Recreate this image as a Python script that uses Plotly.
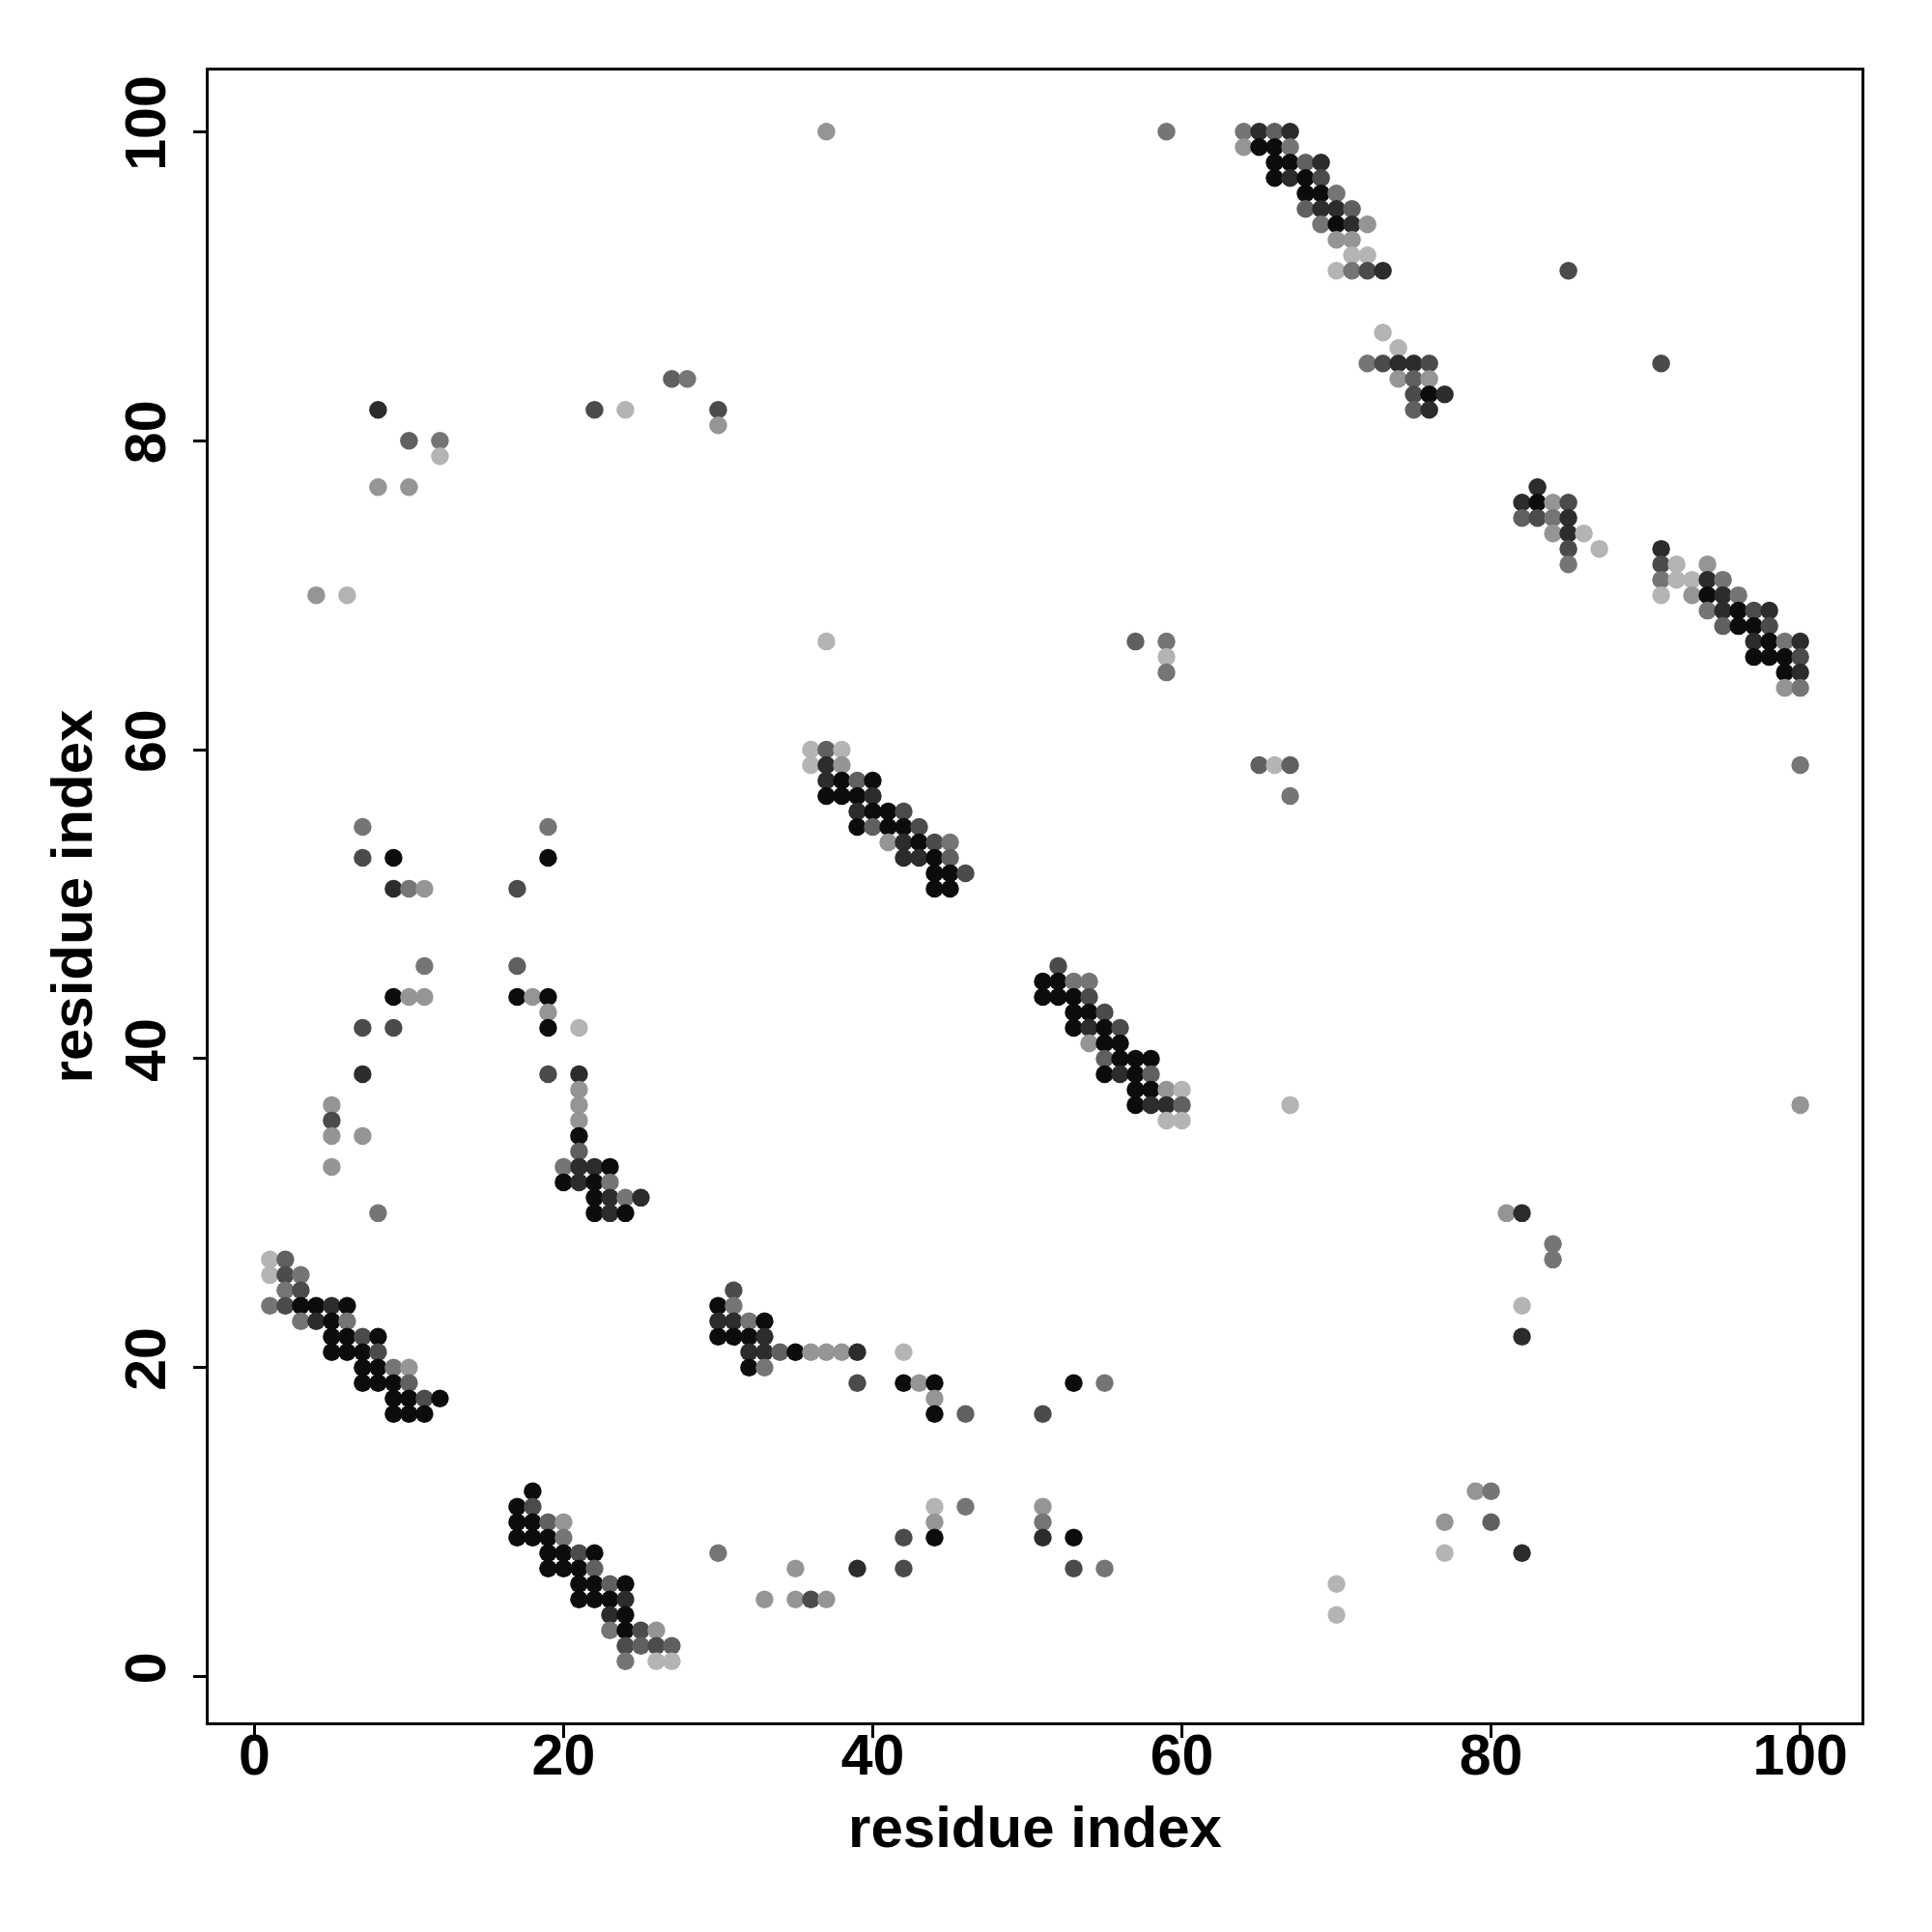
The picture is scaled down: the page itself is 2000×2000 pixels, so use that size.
import plotly.graph_objects as go

# residue i (x), residue j (y), contact strength (0.2 light ... 1.0 black)
res_i = [
 1,2, 1,2,3, 2,3, 1,2,3,4,5,6, 3,4,5,6, 5,6,7,8, 5,6,7,8, 7,8,9,10, 7,8,9,10, 9,10,11,12, 9,10,11,
 18, 17,18, 17,18,19,20, 17,18,19,20, 19,20,21,22,30, 19,20,21,22, 21,22,23,24, 21,22,23,24, 23,24,
 23,24,25,26, 24,25,26,27, 24,26,27,
 19,19,17,17,17,18,19,19,19,21,19,21, 21,21,21,21,21, 20,21,22,23, 20,21,22,23, 22,23,24,25, 22,23,24,
 7,7,9,9,10,11, 11,9,10,11,7,9,7, 5,5,5,7,5,8,
 31, 30,31, 30,31,32,33, 30,31,32,33, 32,33,34,35,36,37,38,39,42, 32,33, 39,42,43,44, 44, 44,46,
 44,46,51, 44,51, 42,44,51,53, 35,39,42,53,55, 33,35,36,37,
 36,37,38, 36,37,38, 37,38,39,40, 37,38,39,40, 39,40,41,42, 39,40,41,42,43, 41,42,43,44,45,
 42,43,44,45, 44,45,46, 44,45,
 52, 51,52,53,54, 51,52,53,54, 53,54,55, 53,54,55,56, 54,55,56, 55,56,57,58, 55,56,57,58,
 57,58,59,60, 57,58,59,60, 59,60,
 64,65,66,67, 64,65,66,67, 66,67,68,69, 66,67,68,69, 68,69,70, 68,69,70,71, 69,70,71,72, 70,71,
 71,72, 70,71,72,73, 73, 74, 72,73,74,75,76, 74,75,76, 75,76,77, 75,76,
 83, 82,83,84,85, 82,83,84,85, 84,85,86, 85,87, 85,
 91, 91,92,94, 91,92,93,94,95, 91,93,94,95,96, 94,95,96,97,98, 95,96,97,98, 97,98,99,100,
 97,98,99,100, 99,100, 99,100,
 27,28, 8,22,24,30, 30, 10,12, 12, 8,10, 4,6,
 37,59,85,91,37,57,59,59,59, 65,66,67,67,100, 67,100, 81,82,84,84,82,82, 51,53,55,
 70,70,77,77,79,80,80,82,
]
res_j = [
 27,27, 26,26,26, 25,25, 24,24,24,24,24,24, 23,23,23,23, 22,22,22,22, 21,21,21,21, 20,20,20,20,
 19,19,19,19, 18,18,18,18, 17,17,17,
 12, 11,11, 10,10,10,10, 9,9,9,9, 8,8,8,8,8, 7,7,7,7, 6,6,6,6, 5,5,5,5, 4,4,
 3,3,3,3, 2,2,2,2, 1,1,1,
 55,53,51,46,44,44,44,43,42,42,39,39, 38,37,36,35,34, 33,33,33,33, 32,32,32,32, 31,31,31,31, 30,30,30,
 55,53,53,51,51,51, 46,44,44,44,42,42,39, 37,36,35,35,33,30,
 25, 24,24, 23,23,23,23, 22,22,22,22, 21,21,21,21,21,21,21,21,21, 20,20, 19,19,19,19, 18, 17,17,
 11,11,11, 10,10, 9,9,9,9, 7,7,7,7,7, 5,5,5,5,
 60,60,60, 59,59,59, 58,58,58,58, 57,57,57,57, 56,56,56,56, 55,55,55,55,55, 54,54,54,54,54,
 53,53,53,53, 52,52,52, 51,51,
 46, 45,45,45,45, 44,44,44,44, 43,43,43, 42,42,42,42, 41,41,41, 40,40,40,40, 39,39,39,39,
 38,38,38,38, 37,37,37,37, 36,36,
 100,100,100,100, 99,99,99,99, 98,98,98,98, 97,97,97,97, 96,96,96, 95,95,95,95, 94,94,94,94, 93,93,
 92,92, 91,91,91,91, 87, 86, 85,85,85,85,85, 84,84,84, 83,83,83, 82,82,
 77, 76,76,76,76, 75,75,75,75, 74,74,74, 73,73, 72,
 73, 72,72,72, 71,71,71,71,71, 70,70,70,70,70, 69,69,69,69,69, 68,68,68,68, 67,67,67,67,
 66,66,66,66, 65,65, 64,64,
 84,84, 82,82,82,82, 81, 80,80, 79, 77,77, 70,70,
 100,100,91,85,67,67,67,66,65, 59,59,59,57,59, 37,37, 30,30,28,27,24,22, 17,19,19,
 6,4,10,8,12,12,10,8,
]
contact_prob = [
 0.2,0.6, 0.2,0.7,0.5, 0.5,0.7, 0.5,0.7,1.0,1.0,0.85,1.0, 0.5,0.85,1.0,0.5, 1.0,1.0,0.7,1.0,
 1.0,1.0,1.0,0.7, 1.0,1.0,0.5,0.35, 1.0,1.0,1.0,0.6, 1.0,1.0,0.7,1.0, 1.0,1.0,1.0,
 1.0, 1.0,0.7, 1.0,1.0,0.6,0.35, 1.0,1.0,1.0,0.5, 1.0,1.0,0.7,1.0,0.5, 1.0,1.0,1.0,0.6,
 1.0,1.0,0.6,1.0, 1.0,1.0,1.0,0.85, 0.85,1.0, 0.5,1.0,0.7,0.35, 0.7,0.6,0.7,0.6, 0.5,0.2,0.2,
 0.5,1.0,0.7,0.6,1.0,0.35,1.0,0.35,1.0,0.2,0.7,0.85, 0.35,0.35,0.35,1.0,0.6,
 0.5,0.85,0.85,1.0, 1.0,0.85,1.0,0.5, 1.0,0.85,0.5,0.85, 1.0,0.85,1.0,
 0.5,0.7,1.0,0.85,0.5,0.35, 0.5,1.0,0.35,0.35,0.7,0.7,0.85, 0.35,0.7,0.35,0.35,0.35,0.5,
 0.7, 1.0,0.5, 0.85,0.85,0.5,1.0, 1.0,1.0,1.0,0.85, 0.85,0.85,0.6,1.0,0.35,0.35,0.35,0.85,0.2,
 1.0,0.5, 0.7,1.0,0.35,1.0, 0.35, 1.0,0.6,
 0.2,0.5,0.35, 0.35,0.5, 0.7,1.0,0.85,1.0, 0.35,0.85,0.7,0.7,0.5, 0.35,0.35,0.7,0.35,
 0.2,0.6,0.2, 0.2,0.85,0.35, 0.85,1.0,0.6,1.0, 1.0,1.0,1.0,0.85, 0.85,1.0,1.0,0.7,
 1.0,0.6,1.0,1.0,0.7, 0.35,0.85,1.0,0.7,0.5, 0.85,0.85,1.0,0.6, 1.0,1.0,0.7, 1.0,1.0,
 0.7, 1.0,1.0,0.5,0.5, 1.0,1.0,1.0,0.7, 1.0,1.0,0.7, 1.0,0.85,1.0,0.7, 0.35,1.0,1.0,
 0.6,1.0,1.0,1.0, 1.0,0.85,1.0,0.6, 1.0,1.0,0.35,0.2, 1.0,0.85,0.85,0.6, 0.2,0.2,
 0.5,0.85,0.6,0.85, 0.35,1.0,1.0,0.5, 1.0,1.0,0.6,0.85, 1.0,0.85,1.0,0.7, 1.0,1.0,0.5,
 0.6,0.85,0.85,0.6, 0.5,1.0,0.85,0.35, 0.35,0.35, 0.2,0.2, 0.2,0.5,0.7,0.85, 0.2, 0.2,
 0.5,0.7,0.85,0.85,0.7, 0.35,0.6,0.35, 0.7,1.0,0.85, 0.6,0.85,
 0.85, 0.85,1.0,0.35,0.7, 0.6,0.7,0.5,0.85, 0.35,0.85,0.2, 0.7,0.2, 0.5,
 0.85, 0.7,0.2,0.35, 0.5,0.2,0.2,0.85,0.5, 0.2,0.35,1.0,0.85,0.5, 0.5,0.85,1.0,0.7,0.85,
 0.6,1.0,1.0,0.7, 0.85,1.0,0.5,0.85, 1.0,1.0,1.0,0.7, 1.0,0.85, 0.35,0.5,
 0.6,0.5, 0.85,0.7,0.2,0.7, 0.35, 0.6,0.5, 0.2, 0.35,0.35, 0.35,0.2,
 0.35,0.5,0.7,0.7,0.2,0.6,0.5,0.2,0.5, 0.6,0.2,0.6,0.5,0.5, 0.2,0.35, 0.35,0.85,0.5,0.5,0.2,0.85,
 0.7,1.0,0.5,
 0.2,0.2,0.35,0.2,0.35,0.5,0.6,0.85,
]

x_ticks = [0, 20, 40, 60, 80, 100]
y_ticks = [0, 20, 40, 60, 80, 100]

n = min(len(res_i), len(res_j), len(contact_prob))

fig = go.Figure(go.Scatter(
    x=res_i[:n], y=res_j[:n], mode="markers",
    marker=dict(size=18.5, color=contact_prob[:n], cmin=0.2, cmax=1.0,
                colorscale=[[0, "rgb(180,180,180)"], [1, "rgb(12,12,12)"]],
                line=dict(width=0), showscale=False),
    hoverinfo="x+y",
))

font_family = "Liberation Sans, Arial, Helvetica, sans-serif"
axis_common = dict(
    showgrid=False, zeroline=False, showline=True, mirror=True,
    linecolor="black", linewidth=2.5, ticks="outside", ticklen=13, tickwidth=2.5,
    tickcolor="black", range=[-2.96, 103.96],
    tickfont=dict(family=font_family, size=59, color="black", weight="bold"),
)
title_font = dict(family=font_family, size=60, color="black", weight="bold")
fig.update_layout(
    width=2000, height=2000, paper_bgcolor="white", plot_bgcolor="white",
    margin=dict(l=208, r=81, t=65, b=225), showlegend=False,
    xaxis=dict(**axis_common, tickvals=x_ticks, ticklabelstandoff=-33,
               title=dict(text="residue index", standoff=22, font=title_font)),
    yaxis=dict(**axis_common, tickvals=y_ticks, tickangle=-90, ticklabelstandoff=6,
               title=dict(text="residue index", standoff=3, font=title_font)),
)
fig.write_html("out.html")
